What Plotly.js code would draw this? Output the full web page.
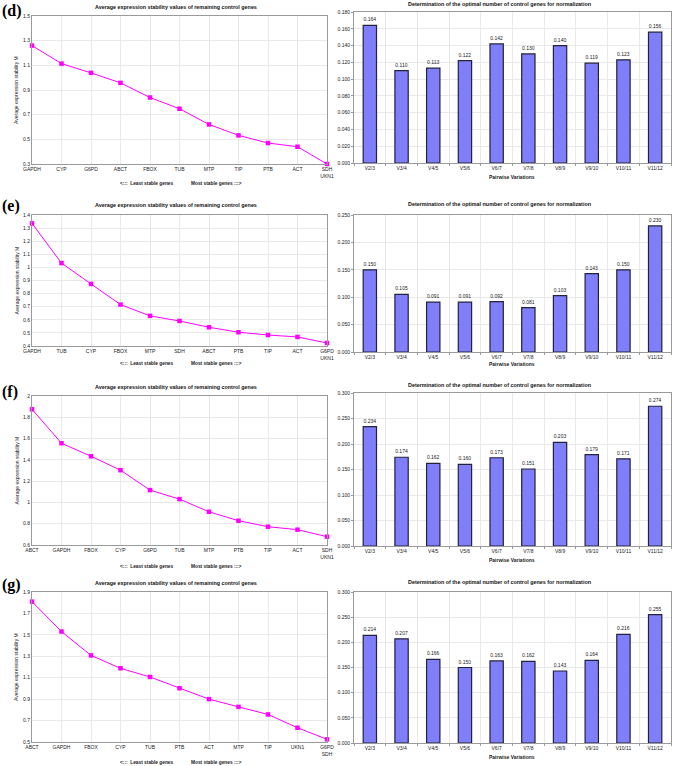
<!DOCTYPE html>
<html><head><meta charset="utf-8">
<script src="https://cdn.plot.ly/plotly-3.0.1.min.js"></script>
<style>html,body{margin:0;padding:0;background:#fff}#chart{width:673px;height:766px}</style>
</head><body><div id="chart"></div>
<script>
// ---- data ----
const genesD = ["GAPDH","CYP","G6PD","ABCT","FBOX","TUB","MTP","TIP","PTB","ACT","SDH<br>UKN1"];
const stabilityD = [1.260,1.114,1.039,0.958,0.839,0.748,0.621,0.532,0.470,0.440,0.300];
const genesE = ["GAPDH","TUB","CYP","FBOX","MTP","SDH","ABCT","PTB","TIP","ACT","G6PD<br>UKN1"];
const stabilityE = [1.336,1.033,0.874,0.716,0.630,0.591,0.543,0.505,0.484,0.469,0.423];
const genesF = ["ABCT","GAPDH","FBOX","CYP","G6PD","TUB","MTP","PTB","TIP","ACT","SDH<br>UKN1"];
const stabilityF = [1.875,1.556,1.434,1.303,1.116,1.031,0.912,0.828,0.772,0.744,0.678];
const genesG = ["ABCT","GAPDH","FBOX","CYP","TUB","PTB","ACT","MTP","TIP","UKN1","G6PD<br>SDH"];
const stabilityG = [1.810,1.531,1.308,1.188,1.107,1.002,0.900,0.828,0.757,0.633,0.525];
const pairwise = ["V2/3","V3/4","V4/5","V5/6","V6/7","V7/8","V8/9","V9/10","V10/11","V11/12"];
const variationD = [0.164,0.110,0.113,0.122,0.142,0.130,0.140,0.119,0.123,0.156];
const variationE = [0.150,0.105,0.091,0.091,0.092,0.081,0.103,0.143,0.150,0.230];
const variationF = [0.234,0.174,0.162,0.160,0.173,0.151,0.203,0.179,0.171,0.274];
const variationG = [0.214,0.207,0.166,0.150,0.163,0.162,0.143,0.164,0.216,0.255];
const panelLabels = ["(d)","(e)","(f)","(g)"];
const leftTitle = "Average expression stability values of remaining control genes";
const rightTitle = "Determination of the optimal number of control genes for normalization";
const leftYTitle = "Average expression stability M";
const rightXTitle = "Pairwise Variations";
const leastText = "<::: &nbsp;Least stable genes";
const mostText = "Most stable genes :::>";

// ---- layout helpers ----
const W = 673, H = 766;
const px = x => x / W;
const py = y => 1 - y / H;
const FONT = "Liberation Sans, Arial, sans-serif";

const rows = [
  {genes: genesD, stab: stabilityD, vari: variationD, ly: [16,164], ry: [12,163], lr: [0.3,1.5], ld: 0.2, rr: [0,0.18], rd: 0.02,
   lt: 7, rt: 4, lab: 0, labAnchor: "top", bot: 184, pair: 177},
  {genes: genesE, stab: stabilityE, vari: variationE, ly: [215,346], ry: [215,352], lr: [0.4,1.4], ld: 0.1, rr: [0,0.25], rd: 0.05,
   lt: 205, rt: 204, lab: 206, labAnchor: "middle", bot: 364, pair: 364},
  {genes: genesF, stab: stabilityF, vari: variationF, ly: [396,545], ry: [393,546], lr: [0.6,2.0], ld: 0.2, rr: [0,0.30], rd: 0.05,
   lt: 387, rt: 385, lab: 392, labAnchor: "middle", bot: 566, pair: 560},
  {genes: genesG, stab: stabilityG, vari: variationG, ly: [592,742], ry: [592,743], lr: [0.5,1.9], ld: 0.2, rr: [0,0.30], rd: 0.05,
   lt: 583, rt: 582, lab: 585, labAnchor: "middle", bot: 762, pair: 757}
];

const LX = [32, 327], RX = [354, 671];
const grid = "#e4e4e4", frame = "#9a9a9a";
const tickFont = {family: FONT, size: 5, color: "#222"};

const data = [];
const layout = {
  width: W, height: H, margin: {l:0, r:0, t:0, b:0},
  paper_bgcolor: "#fff", plot_bgcolor: "#fff", showlegend: false,
  font: {family: FONT, color: "#222"},
  annotations: []
};

rows.forEach((r, i) => {
  const a = 2*i + 1, b = 2*i + 2;
  const xa = "x" + (a === 1 ? "" : a), ya = "y" + (a === 1 ? "" : a);
  const xb = "x" + b, yb = "y" + b;

  data.push({
    type: "scatter", mode: "lines+markers", x: r.genes, y: r.stab,
    xaxis: xa, yaxis: ya, cliponaxis: false,
    line: {color: "#ff00ff", width: 1},
    marker: {symbol: "square", size: 4.5, color: "#ff00ff"}
  });
  data.push({
    type: "bar", x: pairwise, y: r.vari, xaxis: xb, yaxis: yb,
    width: 0.42, cliponaxis: false,
    marker: {color: "#7f7ffb", line: {color: "#22223a", width: 1.2}},
    text: r.vari.map(v => v.toFixed(3)), textposition: "outside",
    constraintext: "none", textfont: {family: FONT, size: 5, color: "#222"}
  });

  const kA = "xaxis" + (a === 1 ? "" : a), kYA = "yaxis" + (a === 1 ? "" : a);
  layout[kA] = {
    domain: [px(LX[0]), px(LX[1])], anchor: ya, type: "category", range: [0, 10],
    showgrid: true, gridcolor: grid, gridwidth: 0.8, showline: true, mirror: true,
    linecolor: frame, linewidth: 1, ticks: "", tickfont: tickFont, zeroline: false,
    tickmode: "array", tickvals: r.genes, ticktext: r.genes, fixedrange: true
  };
  layout[kYA] = {
    domain: [py(r.ly[1]), py(r.ly[0])], anchor: xa, range: r.lr, dtick: r.ld, tick0: r.lr[0],
    showgrid: true, gridcolor: grid, gridwidth: 0.8, showline: true, mirror: true,
    linecolor: frame, linewidth: 1, ticks: "", ticklabelstandoff: 0,
    tickfont: tickFont, zeroline: false, fixedrange: true
  };
  layout["xaxis" + b] = {
    domain: [px(RX[0]), px(RX[1])], anchor: yb, type: "category",
    tickson: "boundaries", showgrid: true, gridcolor: grid, gridwidth: 0.8,
    showline: true, mirror: true, linecolor: frame, linewidth: 1,
    ticks: "outside", ticklen: 2, tickcolor: frame, tickfont: tickFont, fixedrange: true
  };
  layout["yaxis" + b] = {
    domain: [py(r.ry[1]), py(r.ry[0])], anchor: xb, range: r.rr, dtick: r.rd, tick0: 0,
    tickformat: ".3f", showgrid: true, gridcolor: grid, gridwidth: 0.8,
    showline: true, mirror: true, linecolor: frame, linewidth: 1,
    ticks: "outside", ticklen: 2, tickcolor: frame, tickfont: tickFont,
    zeroline: false, fixedrange: true
  };

  const ann = (text, x, y, opts) => layout.annotations.push(Object.assign({
    text, x: px(x), y: py(y), xref: "paper", yref: "paper", showarrow: false,
    xanchor: "center", yanchor: "middle", font: {family: FONT, size: 5, color: "#222"}
  }, opts || {}));

  ann(panelLabels[i], 0, r.lab, {xanchor: "left", yanchor: r.labAnchor,
    font: {family: "Liberation Serif, Times New Roman, serif", size: 16, color: "#000", weight: "bold"}});
  ann("<b>" + leftTitle + "</b>", 176, r.lt, {font: {family: FONT, size: 5.4, color: "#111"}});
  ann("<b>" + rightTitle + "</b>", 499, r.rt, {font: {family: FONT, size: 5.4, color: "#111"}});
  ann(leftYTitle, 16, (r.ly[0] + r.ly[1]) / 2, {textangle: -90, font: {family: FONT, size: 5, color: "#222"}});
  ann("<b>" + leastText + "</b>", 147, r.bot, {font: {family: FONT, size: 4.8, color: "#222"}});
  ann("<b>" + mostText + "</b>", 216, r.bot, {font: {family: FONT, size: 4.8, color: "#222"}});
  ann("<b>" + rightXTitle + "</b>", 512, r.pair, {font: {family: FONT, size: 5, color: "#222"}});
});

Plotly.newPlot("chart", data, layout, {staticPlot: true, displayModeBar: false});
</script>
</body></html>
